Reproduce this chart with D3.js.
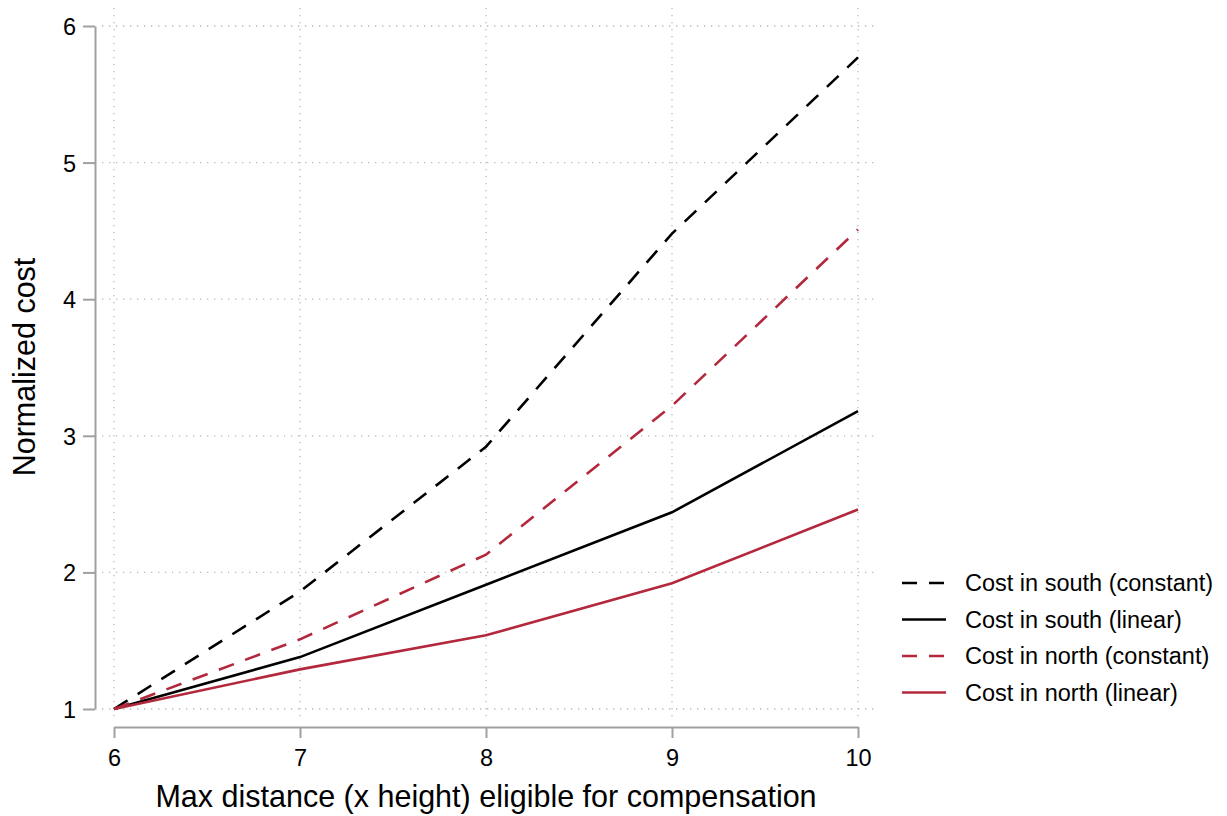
<!DOCTYPE html>
<html>
<head>
<meta charset="utf-8">
<script src="https://cdn.jsdelivr.net/npm/d3@7"></script>
<style>
  body { margin: 0; background: #fff; }
  svg { display: block; font-family: "Liberation Sans", Arial, Helvetica, sans-serif; }
  .grid line { stroke: #b8b8b8; stroke-width: 1.3; stroke-dasharray: 1.3 5.7; }
  .axis path, .axis line { stroke: #a0a0a0; stroke-width: 2; }
</style>
</head>
<body>
<svg id="chart" width="1227" height="816"></svg>
<script>
const xValues = [6, 7, 8, 9, 10];
const xTicks = [6, 7, 8, 9, 10];
const yTicks = [1, 2, 3, 4, 5, 6];

const southConstant = [1, 1.86, 2.92, 4.48, 5.77];
const southLinear = [1, 1.38, 1.91, 2.44, 3.18];
const northConstant = [1, 1.51, 2.13, 3.22, 4.51];
const northLinear = [1, 1.29, 1.54, 1.92, 2.46];

const seriesNames = [
  "Cost in south (constant)",
  "Cost in south (linear)",
  "Cost in north (constant)",
  "Cost in north (linear)"
];

const RED = "#b3283c";
const FONT = '"Liberation Sans", Arial, Helvetica, sans-serif';
const series = [
  { name: seriesNames[0], values: southConstant, color: "#000", dash: "16 12" },
  { name: seriesNames[1], values: southLinear, color: "#000", dash: null },
  { name: seriesNames[2], values: northConstant, color: RED, dash: "16 12" },
  { name: seriesNames[3], values: northLinear, color: RED, dash: null }
];

const svg = d3.select("#chart");

const x = d3.scaleLinear().domain([6, 10]).range([114, 858]);
const y = d3.scaleLinear().domain([1, 6]).range([709, 26]);

// plot region slightly larger than the data range
const plotLeft = 102, plotRight = 877, plotTop = 8, plotBottom = 720;

const grid = svg.append("g").attr("class", "grid");
grid.selectAll("line.h")
  .data(yTicks)
  .join("line")
  .attr("class", "h")
  .attr("x1", plotLeft).attr("x2", plotRight)
  .attr("y1", d => y(d)).attr("y2", d => y(d));
grid.selectAll("line.v")
  .data(xTicks)
  .join("line")
  .attr("class", "v")
  .attr("y1", plotTop).attr("y2", plotBottom)
  .attr("x1", d => x(d)).attr("x2", d => x(d));

function styleTicks(g) {
  g.attr("font-family", FONT);
  g.selectAll("text").attr("fill", "#000").style("font-size", "23.5px");
}

svg.append("g")
  .attr("class", "axis")
  .attr("transform", "translate(95,0)")
  .call(d3.axisLeft(y).tickValues(yTicks).tickFormat(d3.format("d")).tickSize(12).tickSizeOuter(0).tickPadding(7))
  .call(styleTicks)
  .call(g => g.selectAll("text").attr("dy", "0.36em"));

svg.append("g")
  .attr("class", "axis")
  .attr("transform", "translate(0,727)")
  .call(d3.axisBottom(x).tickValues(xTicks).tickFormat(d3.format("d")).tickSize(11).tickSizeOuter(0).tickPadding(11))
  .call(styleTicks);

const line = d3.line()
  .x((d, i) => x(xValues[i]))
  .y(d => y(d));

svg.append("g")
  .selectAll("path")
  .data(series)
  .join("path")
  .attr("fill", "none")
  .attr("stroke", d => d.color)
  .attr("stroke-width", 2.6)
  .attr("stroke-dasharray", d => d.dash)
  .attr("d", d => line(d.values));

svg.append("text")
  .attr("transform", "translate(35,367) rotate(-90)")
  .attr("text-anchor", "middle")
  .attr("font-size", 30.5)
  .attr("fill", "#000")
  .text("Normalized cost");

svg.append("text")
  .attr("x", 486)
  .attr("y", 807)
  .attr("text-anchor", "middle")
  .attr("font-size", 30.5)
  .attr("fill", "#000")
  .text("Max distance (x height) eligible for compensation");

const legend = svg.append("g").attr("transform", "translate(902,583)");
const rows = legend.selectAll("g")
  .data(series)
  .join("g")
  .attr("transform", (d, i) => `translate(0,${i * 36.5})`);
rows.append("line")
  .attr("x1", 0).attr("x2", 44)
  .attr("stroke", d => d.color)
  .attr("stroke-width", 2.6)
  .attr("stroke-dasharray", d => d.dash ? "15 12" : null);
rows.append("text")
  .attr("x", 63)
  .attr("dy", "0.36em")
  .attr("font-size", 23.5)
  .attr("fill", "#000")
  .text(d => d.name);
</script>
</body>
</html>
